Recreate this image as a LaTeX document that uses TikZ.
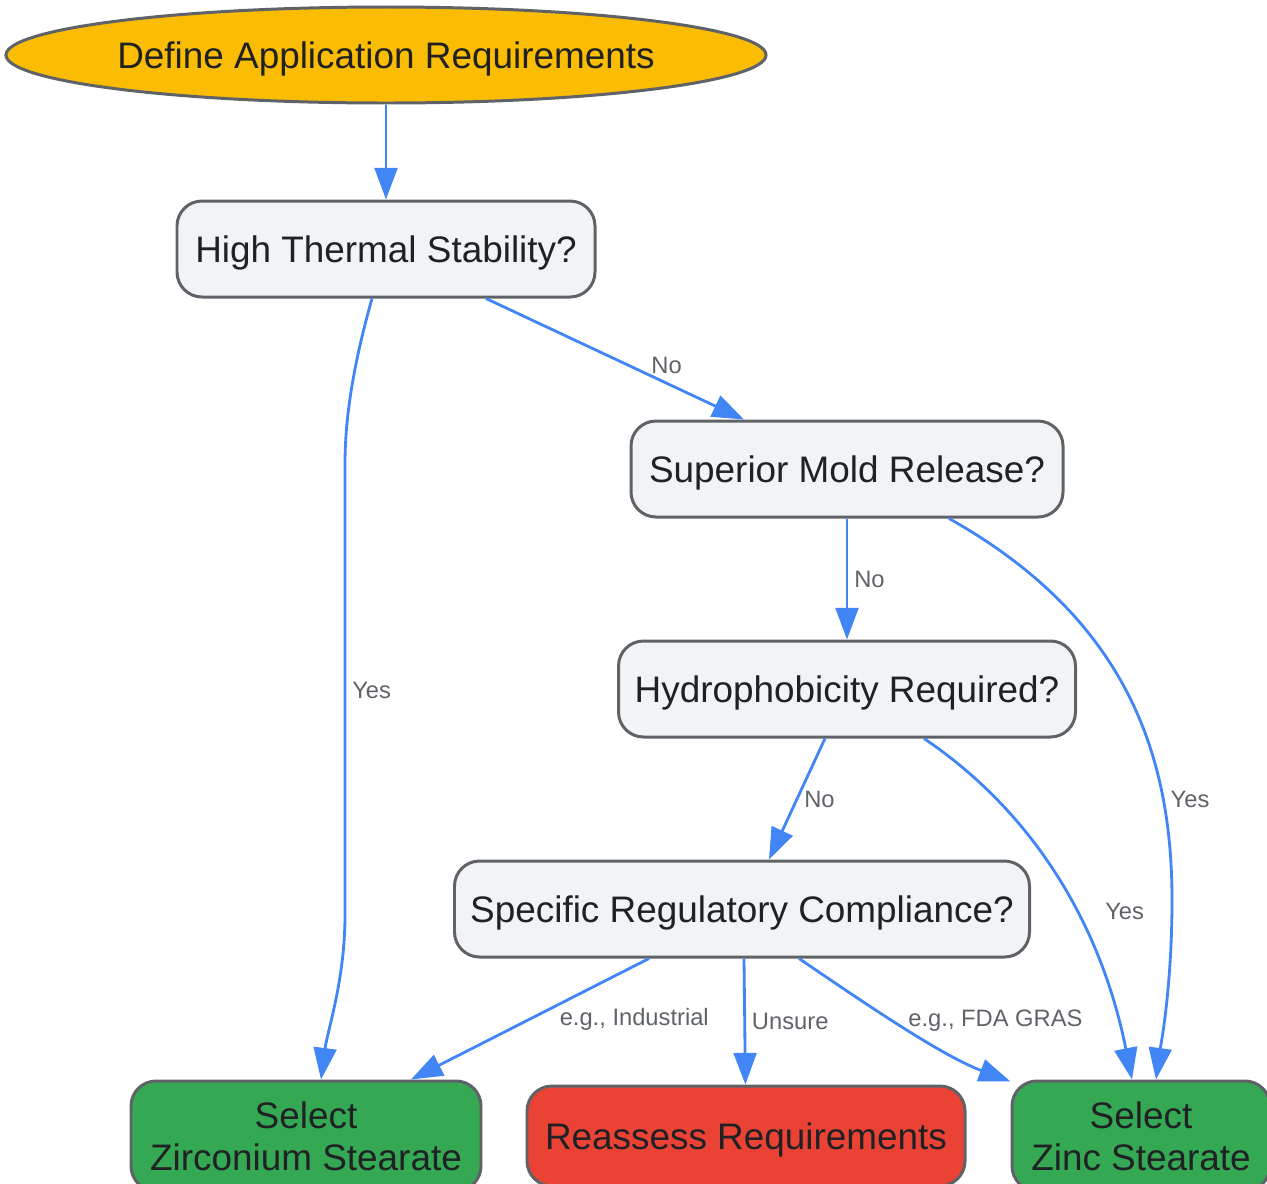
\documentclass[tikz,border=0pt]{standalone}
\usepackage{fontspec}
\setmainfont{Liberation Sans}
\usepackage{tikz}
\usetikzlibrary{positioning,shapes.geometric,arrows.meta}
\definecolor{qbox}{HTML}{F1F3F4}
\definecolor{qline}{HTML}{5F6368}
\definecolor{qtext}{HTML}{202124}
\definecolor{qblue}{HTML}{4285F4}
\definecolor{qyellow}{HTML}{FBBC04}
\definecolor{qgreen}{HTML}{34A853}
\definecolor{qred}{HTML}{EA4335}
\tikzstyle{start}=[ellipse, draw=qline, fill=qyellow, line width=1.7pt, minimum width=15.14cm, minimum height=1.92cm, inner sep=0pt, text depth=0pt, text=qtext, font=\fontsize{21}{24}\selectfont]
\tikzstyle{boxed}=[draw=qline, fill=qbox, rounded corners=0.5cm, line width=1.7pt, minimum height=1.92cm, inner sep=0pt, text=qtext, font=\fontsize{21}{24}\selectfont]
\tikzstyle{dec}=[boxed, text depth=0pt]
\tikzstyle{res}=[boxed, fill=qgreen, align=center, minimum height=2.2cm]
\tikzstyle{lbl}=[text=qline, font=\fontsize{13.5}{16}\selectfont]
\tikzstyle{flow}=[->, draw=qblue, line width=1.6pt]

\begin{document}
\begin{tikzpicture}[node distance=4.4cm,>={Triangle[length=18pt,width=13pt]}]
\useasboundingbox (0,0) rectangle (25.34,-23.66);
  \node[start] at (7.72,-1.10) (def) {Define Application Requirements};
  \node[dec, minimum width=8.36cm, below of = def, node distance = 3.88cm] (hts) {High Thermal Stability?};
\draw[flow] (def) -- (hts);

  \node[dec, minimum width=8.64cm, below of = hts, xshift = 9.22cm] (smr) {Superior Mold Release?};
  \node[dec, minimum width=9.14cm, below of = smr] (hyd) {Hydrophobicity Required?};
  \node[dec, minimum width=11.5cm, below of = hyd, xshift = -2.1cm] (reg) {Specific Regulatory Compliance?};

% outcomes
\node[res, minimum width=7cm, below of = reg, node distance = 4.54cm, xshift = -8.72cm] (zirc) {Select\\Zirconium Stearate};
\node[dec, fill=qred, minimum width=8.76cm, minimum height=2cm, below of = reg, node distance = 4.54cm, xshift = 0.08cm] (reas) {Reassess Requirements};
\node[res, minimum width=5.16cm, below of = reg, node distance = 4.54cm, xshift = 7.98cm] (zinc) {Select\\Zinc Stearate};

\draw[flow] ([xshift=-0.28cm]hts.south) .. controls (6.98,-7.6) and (6.9,-8.6) .. (6.9,-9.3) -- node[lbl, right] {Yes} (6.9,-18.3) .. controls (6.9,-19.6) and (6.55,-20.6) .. ([xshift=0.3cm]zirc.north);
\draw[flow] ([xshift=2cm]hts.south) -- node[lbl, pos=0.7, above, yshift=0.05cm] {No} ([xshift=-2.06cm]smr.north);

\draw[flow] (smr) -- node[lbl, right] {No} (hyd);
\draw[flow] ([xshift=2.04cm]smr.south) .. controls (22.6,-12.4) and (23.44,-15.2) .. node[lbl, pos=0.76, right] {Yes} (23.44,-18.0) .. controls (23.44,-19.8) and (23.2,-21.0) .. ([xshift=0.3cm]zinc.north);

\draw[flow] ([xshift=-0.44cm]hyd.south) -- node[lbl, right] {No} ([xshift=0.54cm]reg.north);
\draw[flow] ([xshift=1.54cm]hyd.south) .. controls (20.6,-16.2) and (22.0,-18.4) .. node[lbl, pos=0.6, right, xshift=0.45cm] {Yes} ([xshift=-0.18cm]zinc.north);

\draw[flow] ([xshift=-1.86cm]reg.south) -- node[lbl, right=0.45cm] {e.g., Industrial} ([xshift=2.1cm]zirc.north);
\draw[flow] ([xshift=0.04cm]reg.south) -- node[lbl, right] {Unsure} (reas);
\draw[flow] ([xshift=1.14cm]reg.south) .. controls (17.2,-20.0) and (18.8,-21.1) .. node[lbl, right, yshift=0.1cm] {e.g., FDA GRAS} ([yshift=-0.04cm]zinc.north west);
\end{tikzpicture}
\end{document}
